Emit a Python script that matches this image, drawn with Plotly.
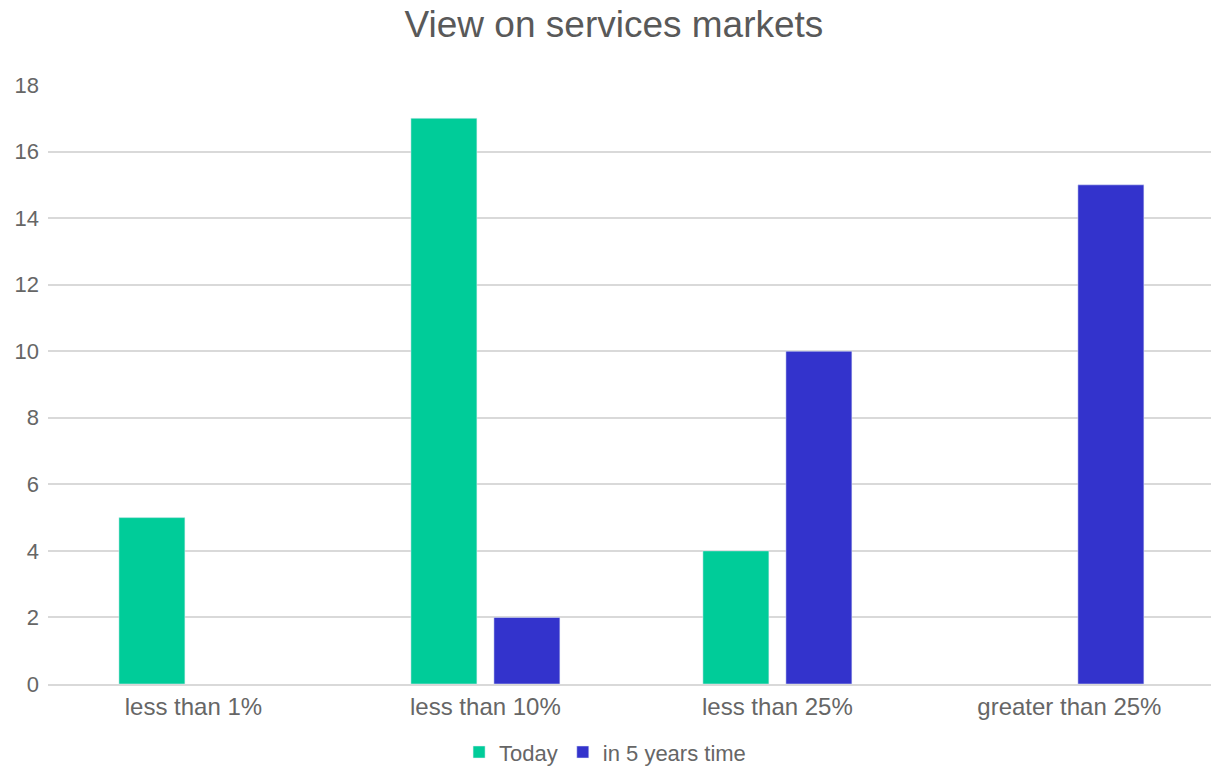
import plotly.graph_objects as go

categories = ["less than 1%", "less than 10%", "less than 25%", "greater than 25%"]
today = [5, 17, 4, None]
in_5_years = [None, 2, 10, 15]
y_ticks = [0, 2, 4, 6, 8, 10, 12, 14, 16, 18]

font_family = "Liberation Sans"

fig = go.Figure()
fig.add_trace(go.Bar(name="Today", x=categories, y=today, marker_color="#00CC99"))
fig.add_trace(go.Bar(name="in 5 years time", x=categories, y=in_5_years, marker_color="#3333CC"))

fig.update_layout(
    width=1211, height=766,
    margin=dict(l=48, r=0, t=85, b=82, autoexpand=False),
    paper_bgcolor="white", plot_bgcolor="white",
    barmode="group", bargap=0.4315, bargroupgap=0.205,
    title=dict(text="View on services markets", x=0.507, xanchor="center", y=0.968, yanchor="middle",
               font=dict(family=font_family, size=37, color="#595959")),
    font=dict(family=font_family, color="#666666"),
    xaxis=dict(tickfont=dict(size=24, color="#666666"), showgrid=False, showline=True,
               linecolor="#d9d9d9", linewidth=2, ticks="", automargin=False,
               range=[-0.498, 3.485]),
    yaxis=dict(range=[0, 18], tickvals=y_ticks, tickfont=dict(size=22, color="#666666"),
               gridcolor="#d9d9d9", gridwidth=1.5, zeroline=False, ticks="", ticklabelstandoff=8,
               automargin=False),
    legend=dict(orientation="h", x=0.479, xanchor="center", yref="container", y=0.018, yanchor="middle",
                font=dict(size=22, color="#666666"), itemwidth=30, traceorder="normal"),
)

fig.write_html("out.html")
